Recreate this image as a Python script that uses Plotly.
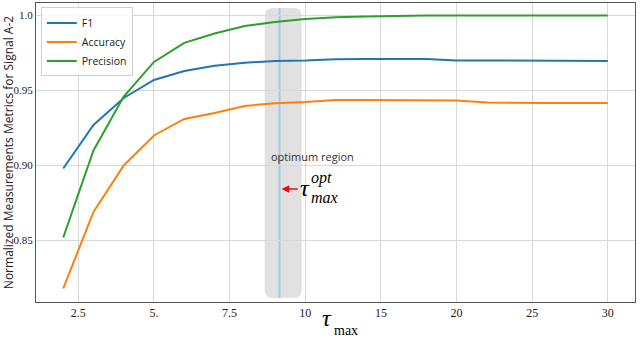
import plotly.graph_objects as go

# tau_max values (plotted at evenly spaced positions, like the original figure)
tau_max = [2, 3, 4, 5, 6, 7, 8, 9, 10, 12, 14, 16, 18, 20, 22, 24, 26, 28, 30]
f1 = [0.898, 0.927, 0.945, 0.957, 0.963, 0.9665, 0.9685, 0.9697, 0.970, 0.9708,
      0.971, 0.971, 0.971, 0.970, 0.970, 0.9697, 0.9697, 0.9697, 0.9697]
accuracy = [0.818, 0.869, 0.900, 0.920, 0.931, 0.935, 0.9397, 0.9415, 0.9423, 0.9437,
            0.9437, 0.9437, 0.9437, 0.9433, 0.942, 0.9417, 0.9417, 0.9417, 0.9417]
precision = [0.852, 0.910, 0.946, 0.969, 0.9817, 0.988, 0.993, 0.9957, 0.9977, 0.9988,
             0.9993, 0.9999, 1.0, 1.0, 1.0, 1.0, 1.0, 1.0, 1.0]

tick_pos = [0.5, 3, 5.5, 8, 10.5, 13, 15.5, 18]
tick_text = ["2.5", "5.", "7.5", "10", "15", "20", "25", "30"]
ytick_vals = [0.85, 0.90, 0.95, 1.0]
ytick_text = ["0.85", "0.90", "0.95", "1.0"]

pos = list(range(len(tau_max)))

fig = go.Figure()
series = [("F1", f1, "#1f77b4"), ("Accuracy", accuracy, "#ff7f0e"),
          ("Precision", precision, "#2ca02c")]
for name, vals, color in series:
    fig.add_trace(go.Scatter(x=pos, y=vals, mode="lines", name=name,
                             customdata=tau_max,
                             line=dict(color=color, width=2)))

# rounded grey "optimum region" band
x0, x1, y0, y1 = 6.66, 7.88, 0.8117, 1.005
rx, ry = 0.27, 0.0055
path = (f"M {x0 + rx},{y0} L {x1 - rx},{y0} Q {x1},{y0} {x1},{y0 + ry} "
        f"L {x1},{y1 - ry} Q {x1},{y1} {x1 - rx},{y1} "
        f"L {x0 + rx},{y1} Q {x0},{y1} {x0},{y1 - ry} "
        f"L {x0},{y0 + ry} Q {x0},{y0} {x0 + rx},{y0} Z")
fig.add_shape(type="path", path=path, fillcolor="#dcdcdc", opacity=0.85,
              line=dict(width=0), layer="below")
fig.add_shape(type="line", x0=7.15, x1=7.15, y0=0.8117, y1=1.005,
              line=dict(color="#9fcbe6", width=2), layer="below")

fig.add_annotation(x=8.25, y=0.906, text="optimum region", showarrow=False,
                   font=dict(family="Open Sans", size=11, color="#333"))
fig.add_annotation(x=7.22, y=0.8843, ax=7.8, ay=0.8843, axref="x", ayref="y",
                   text="", showarrow=True, arrowhead=2, arrowsize=1,
                   arrowwidth=1.5, arrowcolor="red")
fig.add_annotation(x=7.98, y=0.8853, text="<i>τ</i>", showarrow=False,
                   font=dict(family="Liberation Serif", size=24, color="black"))
fig.add_annotation(x=8.55, y=0.8915, text="<i>opt</i>", showarrow=False,
                   font=dict(family="Liberation Serif", size=16, color="black"))
fig.add_annotation(x=8.62, y=0.8785, text="<i>max</i>", showarrow=False,
                   font=dict(family="Liberation Serif", size=16, color="black"))

# x-axis title drawn as annotations (tau with a lowered "max")
fig.add_annotation(x=0.486, y=-0.105, xref="paper", yref="paper",
                   text="<i>τ</i>", showarrow=False,
                   font=dict(family="Liberation Serif", size=24, color="black"))
fig.add_annotation(x=0.518, y=-0.127, xref="paper", yref="paper",
                   text="max", showarrow=False,
                   font=dict(family="Liberation Serif", size=14, color="black"))

fig.update_layout(
    width=640, height=339,
    margin=dict(l=36, r=5, t=3, b=37, autoexpand=False),
    paper_bgcolor="white", plot_bgcolor="white",
    showlegend=True,
    legend=dict(x=0.008, y=0.985, xanchor="left", yanchor="top",
                bgcolor="rgba(255,255,255,0.85)", bordercolor="#d0d0d0",
                borderwidth=1, font=dict(family="Open Sans", size=10.5, color="#222"),
                tracegroupgap=0, itemwidth=30),
    xaxis=dict(range=[-0.9, 18.9], tickvals=tick_pos, ticktext=tick_text,
               showgrid=True, gridcolor="#d9d9d9", gridwidth=1,
               showline=True, linecolor="#555", linewidth=1, mirror=True,
               ticks="", zeroline=False, automargin=False, ticklabelstandoff=0,
               tickfont=dict(family="Liberation Serif", size=12, color="#222")),
    yaxis=dict(range=[0.809, 1.0083], tickvals=ytick_vals, ticktext=ytick_text,
               showgrid=True, gridcolor="#d9d9d9", gridwidth=1,
               showline=True, linecolor="#555", linewidth=1, mirror=True,
               ticks="", zeroline=False, ticklabelstandoff=0, automargin=False,
               tickfont=dict(family="Liberation Serif", size=11, color="#222"),
               title=dict(text="Normalized Measurements Metrics for Signal A-2",
                          standoff=1,
                          font=dict(family="Open Sans", size=12, color="#222"))),
)

# drop the page's default body margin so the figure sits at the window corner
fig.write_html("out.html", config={"displayModeBar": False},
               post_script="document.body.style.margin='0';")
